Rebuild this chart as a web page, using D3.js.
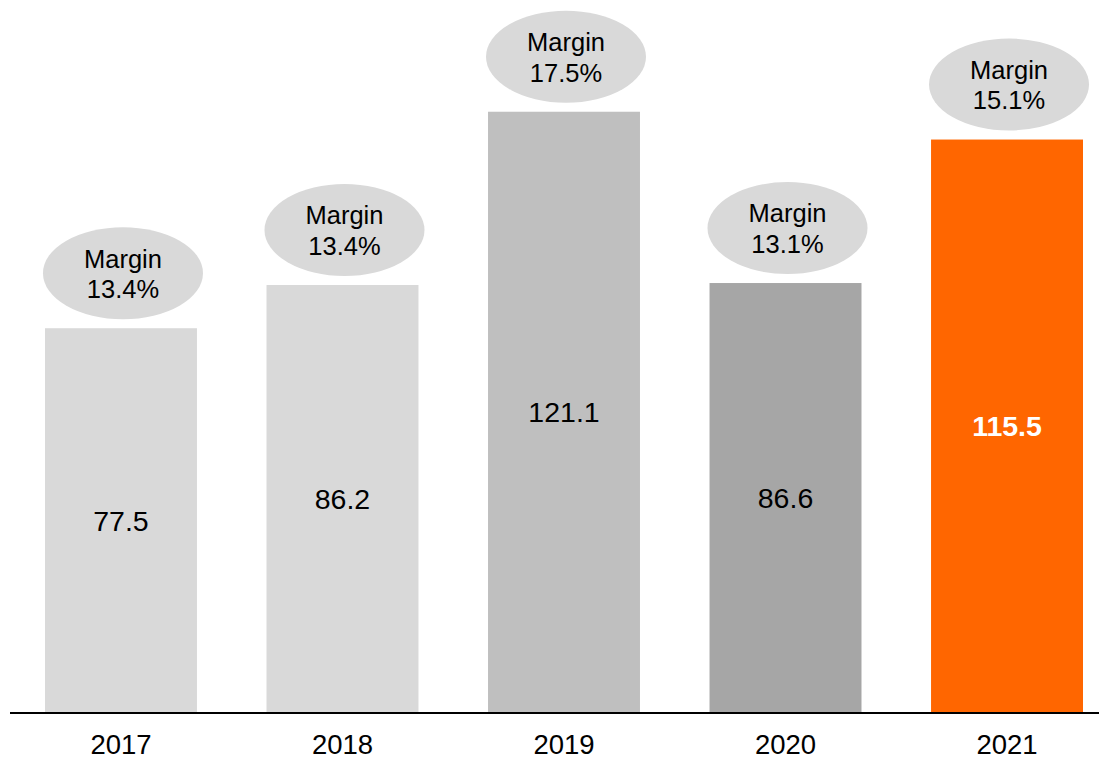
<!DOCTYPE html>
<html>
<head>
<meta charset="utf-8">
<script src="https://cdn.jsdelivr.net/npm/d3@7"></script>
<style>
  html, body { margin: 0; padding: 0; background: #fff; }
  svg { display: block; font-family: "Liberation Sans", Arial, sans-serif; }
</style>
</head>
<body>
<svg id="chart" width="1099" height="759"></svg>
<script>
// Yearly values and margins
const years = ["2017", "2018", "2019", "2020", "2021"];
const values = [77.5, 86.2, 121.1, 86.6, 115.5];
const margins = ["13.4%", "13.4%", "17.5%", "13.1%", "15.1%"];
const barColors = ["#d9d9d9", "#d9d9d9", "#bfbfbf", "#a6a6a6", "#ff6600"];
const highlightYear = "2021";

const svg = d3.select("#chart");
const baseY = 713;

const x = d3.scaleBand()
  .domain(years)
  .range([10, 1118])
  .paddingInner(0.314)
  .paddingOuter(0.158);

const y = d3.scaleLinear()
  .domain([0, 130])
  .range([baseY, baseY - 130 * 4.965]);

const data = years.map((yr, i) => ({ yr, v: values[i], m: margins[i], c: barColors[i] }));

// Bars
svg.append("g").selectAll("rect")
  .data(data)
  .join("rect")
  .attr("x", d => x(d.yr))
  .attr("y", d => y(d.v))
  .attr("width", x.bandwidth())
  .attr("height", d => y(0) - y(d.v))
  .attr("fill", d => d.c);

// Value labels inside bars
svg.append("g").selectAll("text")
  .data(data)
  .join("text")
  .attr("x", d => x(d.yr) + x.bandwidth() / 2)
  .attr("y", d => (y(d.v) + y(0)) / 2)
  .attr("dy", "0.35em")
  .attr("text-anchor", "middle")
  .attr("font-size", 28.5)
  .attr("font-weight", d => d.yr === highlightYear ? "bold" : "normal")
  .attr("fill", d => d.yr === highlightYear ? "#ffffff" : "#000000")
  .text(d => d.v.toFixed(1));

// Margin bubbles above bars
const bubbles = svg.append("g").selectAll("g")
  .data(data)
  .join("g")
  .attr("transform", d => `translate(${x(d.yr) + x.bandwidth() / 2 + 2},${y(d.v) - 55})`);

bubbles.append("ellipse")
  .attr("rx", 80)
  .attr("ry", 46)
  .attr("fill", "#d9d9d9");

bubbles.append("text")
  .attr("text-anchor", "middle")
  .attr("font-size", 25.5)
  .attr("fill", "#000")
  .attr("y", -14.5)
  .attr("dy", "0.35em")
  .text("Margin");

bubbles.append("text")
  .attr("text-anchor", "middle")
  .attr("font-size", 25.5)
  .attr("fill", "#000")
  .attr("y", 16)
  .attr("dy", "0.35em")
  .text(d => d.m);

// Baseline
svg.append("line")
  .attr("x1", 10)
  .attr("x2", 1099)
  .attr("y1", baseY)
  .attr("y2", baseY)
  .attr("stroke", "#000")
  .attr("stroke-width", 2);

// Year labels
const xAxis = d3.axisBottom(x).tickSize(0).tickPadding(0);
const axisG = svg.append("g")
  .attr("transform", `translate(0,${baseY})`)
  .call(xAxis);
axisG.select(".domain").remove();
axisG.selectAll("text")
  .attr("y", 31)
  .attr("dy", "0.35em")
  .attr("font-size", 27.5)
  .attr("font-family", "Liberation Sans, Arial, sans-serif")
  .attr("fill", "#000");
</script>
</body>
</html>
